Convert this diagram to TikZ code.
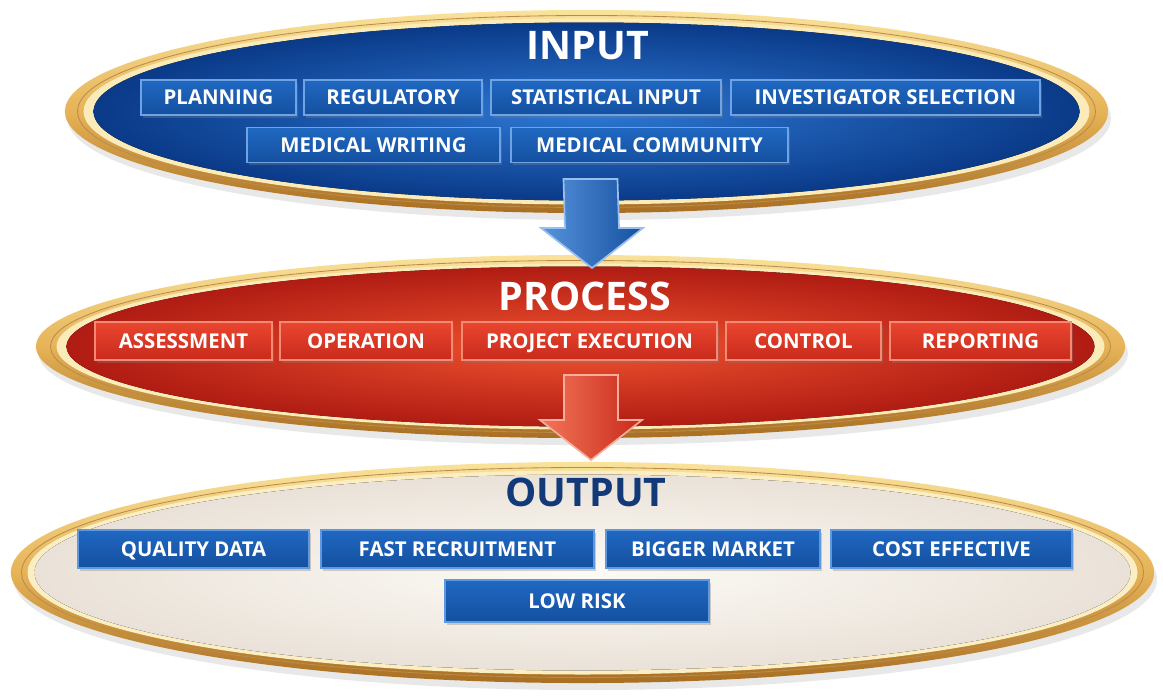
\documentclass[tikz,border=0pt]{standalone}
\usepackage{fontspec}
\setmainfont{Open Sans}
\usetikzlibrary{shapes.geometric,shadows,calc}

\definecolor{goldlight}{HTML}{F9E29A}
\definecolor{goldmid}{HTML}{E6B357}
\definecolor{golddark}{HTML}{A86E22}
\definecolor{inblue}{HTML}{2E78D4}
\definecolor{inbluedark}{HTML}{0A3A88}
\definecolor{boxblue}{HTML}{2068C2}
\definecolor{boxbluedark}{HTML}{14509F}
\definecolor{boxblueline}{HTML}{6EA4E6}
\definecolor{procred}{HTML}{F0532F}
\definecolor{procreddark}{HTML}{B01C13}
\definecolor{boxred}{HTML}{EA4630}
\definecolor{boxreddark}{HTML}{C82A1B}
\definecolor{boxredline}{HTML}{F58A72}
\definecolor{cream}{HTML}{FCFAF6}
\definecolor{creamdark}{HTML}{EAE2D8}
\definecolor{navy}{HTML}{123A78}

\newcommand{\stagearrow}[3]{%
  \draw[#3] ($(#1)+(-27,0)$) -- ($(#1)+(27,0)$) -- ($(#2)+(27,-40)$)
    -- ($(#2)+(51,-40)$) -- (#2) -- ($(#2)+(-51,-40)$) -- ($(#2)+(-27,-40)$) -- cycle;}

\tikzset{
  rim/.style={ellipse, inner sep=0pt, top color=goldlight, bottom color=golddark,
    middle color=goldmid, drop shadow={opacity=0.18, shadow xshift=2pt, shadow yshift=-5pt}},
  title/.style={font=\fontsize{28}{32}\selectfont\bfseries},
  stagebox/.style={rectangle, inner sep=0pt, line width=1pt, text=white,
    font=\fontsize{14.5}{16}\selectfont\bfseries, text height=10.4pt, text depth=0pt,
    drop shadow={opacity=0.35, shadow xshift=1.5pt, shadow yshift=-2pt}},
  bluebox/.style={stagebox, draw=boxblueline, top color=boxblue, bottom color=boxbluedark,
    minimum height=0.875cm},
  redbox/.style={stagebox, draw=boxredline, top color=boxred, bottom color=boxreddark,
    minimum height=0.95cm},
  outbox/.style={stagebox, draw=boxblueline!80!boxblue, top color=boxblue, bottom color=boxbluedark,
    minimum height=0.95cm},
}

\begin{document}
\begin{tikzpicture}[x=0.025cm, y=-0.025cm]
  \useasboundingbox[fill=white] (0,0) rectangle (1163,697);

  % the three stages
  \node[rim, minimum width=26.075cm, minimum height=5.075cm] (input) at (586.5,111.5) {};
  \draw[golddark!80, line width=0.6pt] (input.center) ellipse [x radius=509, y radius=96];
  \fill[goldlight!70!white] (input.center) ellipse [x radius=503, y radius=93];
  \fill[inner color=inblue, outer color=inbluedark] (input.center) ellipse [x radius=493, y radius=89];

  \node[rim, minimum width=27.225cm, minimum height=4.575cm] (process) at (580.5,346.5) {};
  \draw[golddark!80, line width=0.6pt] (process.center) ellipse [x radius=530, y radius=86];
  \fill[goldlight!70!white] (process.center) ellipse [x radius=524, y radius=83];
  \fill[inner color=procred, outer color=procreddark] (process.center) ellipse [x radius=514, y radius=80];

  \node[rim, minimum width=28.575cm, minimum height=5.525cm] (output) at (582.5,572.5) {};
  \draw[golddark!80, line width=0.6pt] (output.center) ellipse [x radius=561, y radius=105];
  \fill[goldlight!60!white] (output.center) ellipse [x radius=555, y radius=102];
  \fill[inner color=cream, outer color=creamdark] (output.center) ellipse [x radius=548, y radius=98];

  \node[title, text=white] (intitle) at (588,46) {INPUT};
  \node[title, text=white] (proctitle) at (585,296) {PROCESS};
  \node[title, text=navy] (outtitle) at (586,492) {OUTPUT};

  % input
  \node[bluebox, minimum width=3.875cm] (planning) at (218.5,97.5) {PLANNING};
  \node[bluebox, minimum width=4.45cm] (regulatory) at (393,97.5) {REGULATORY};
  \node[bluebox, minimum width=5.75cm] (statistical) at (606,97.5) {STATISTICAL INPUT};
  \node[bluebox, minimum width=7.725cm] (investigator) at (885.5,97.5) {INVESTIGATOR SELECTION};
  \node[bluebox, minimum width=6.325cm] (writing) at (373.5,145) {MEDICAL WRITING};
  \node[bluebox, minimum width=6.925cm] (community) at (649.5,145) {MEDICAL COMMUNITY};

  % process
  \node[redbox, minimum width=4.425cm] (assessment) at (183.5,341) {ASSESSMENT};
  \node[redbox, minimum width=4.3cm] (operation) at (366,341) {OPERATION};
  \node[redbox, minimum width=6.375cm] (execution) at (589.5,341) {PROJECT EXECUTION};
  \node[redbox, minimum width=3.875cm] (control) at (803.5,341) {CONTROL};
  \node[redbox, minimum width=4.525cm] (reporting) at (980.5,341) {REPORTING};

  % output
  \node[outbox, minimum width=5.775cm] (quality) at (193.5,549) {QUALITY DATA};
  \node[outbox, minimum width=6.825cm] (recruitment) at (457.5,549) {FAST RECRUITMENT};
  \node[outbox, minimum width=5.35cm] (market) at (713,549) {BIGGER MARKET};
  \node[outbox, minimum width=6.025cm] (costeff) at (951.5,549) {COST EFFECTIVE};
  \node[outbox, minimum width=6.6cm, minimum height=1.05cm] (lowrisk) at (577,601) {LOW RISK};

  % arrows between the stages
  \coordinate (inarrow) at (590.5,179);
  \coordinate (intip) at (592,268);
  \coordinate (procarrow) at (591,375);
  \coordinate (proctip) at (591,460);
  \stagearrow{inarrow}{intip}{left color=inblue!80!white, right color=boxbluedark, draw=boxblueline!70!white, line width=1.2pt}
  \stagearrow{procarrow}{proctip}{left color=procred!80!white, right color=boxreddark, draw=boxredline!70!white, line width=1.2pt}
\end{tikzpicture}
\end{document}
